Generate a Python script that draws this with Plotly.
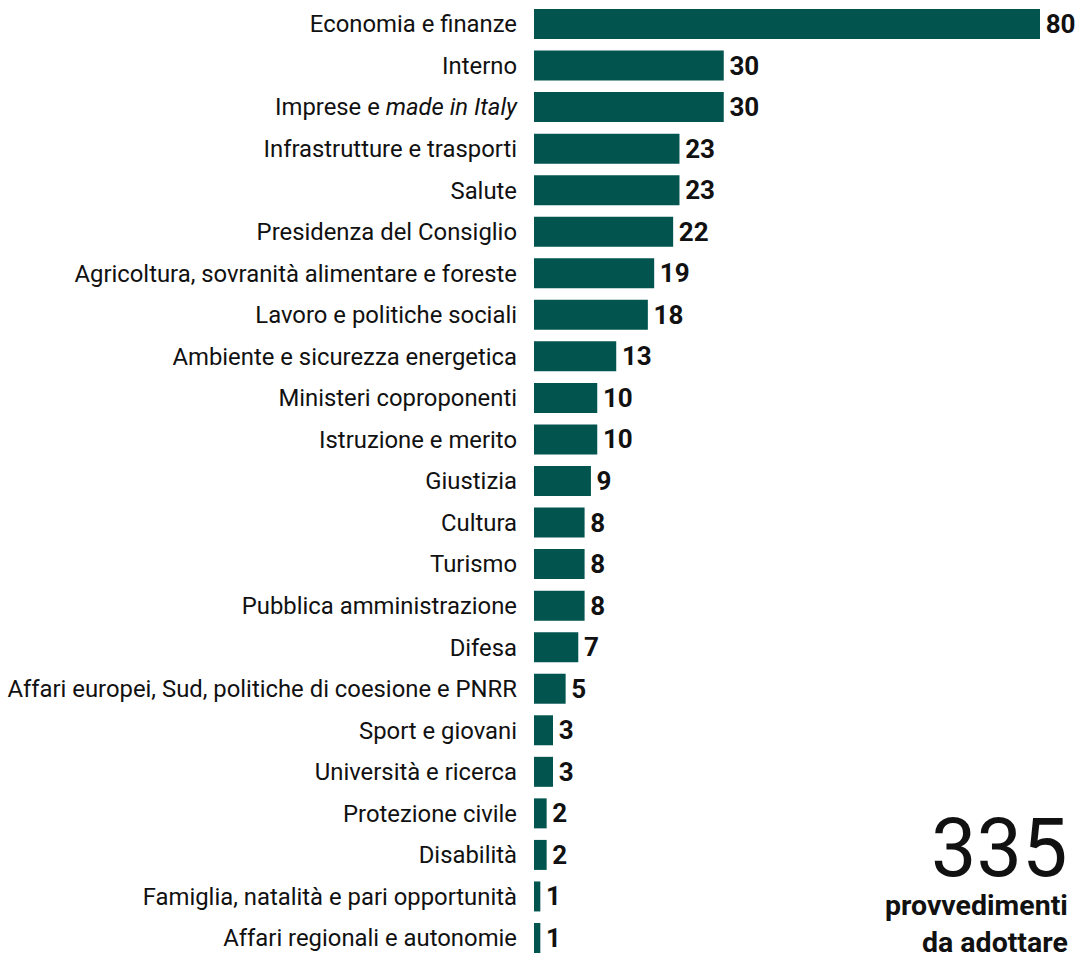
import plotly.graph_objects as go

categories = [
    "Economia e finanze", "Interno", "Imprese e <i>made in Italy</i>",
    "Infrastrutture e trasporti", "Salute", "Presidenza del Consiglio",
    "Agricoltura, sovranità alimentare e foreste", "Lavoro e politiche sociali",
    "Ambiente e sicurezza energetica", "Ministeri coproponenti",
    "Istruzione e merito", "Giustizia", "Cultura", "Turismo",
    "Pubblica amministrazione", "Difesa",
    "Affari europei, Sud, politiche di coesione e PNRR", "Sport e giovani",
    "Università e ricerca", "Protezione civile", "Disabilità",
    "Famiglia, natalità e pari opportunità", "Affari regionali e autonomie",
]
values = [80, 30, 30, 23, 23, 22, 19, 18, 13, 10, 10, 9, 8, 8, 8, 7, 5, 3, 3, 2, 2, 1, 1]
total_value = "335"
total_label = "provvedimenti<br>da adottare"

COLOR = "#02554F"
W, H = 1079, 954
L = 534
PX_PER_UNIT = 6.325

fig = go.Figure(go.Bar(
    x=values, y=categories, orientation="h",
    marker=dict(color=COLOR, line=dict(width=0)),
    text=["\u200a" + str(v) for v in values], textposition="outside",
    textfont=dict(family="Roboto", size=26, color="#111111", weight="bold"),
    cliponaxis=False, constraintext="none",
    hoverinfo="skip",
))

n = len(categories)
pp = 41.55
first_c = 24
last_c = 938
top_idx = -first_c / pp
bot_idx = (n - 1) + (H - last_c) / pp

def px_x(x):  # screen px -> plot-area paper coord
    return (x - L) / (W - L)

def px_y(y):
    return (H - y) / H

fig.update_layout(
    width=W, height=H,
    margin=dict(l=L, r=0, t=0, b=0, autoexpand=False),
    paper_bgcolor="white", plot_bgcolor="white",
    bargap=0.278, showlegend=False,
    font=dict(family="Roboto", color="#111111"),
    xaxis=dict(range=[0, (W - L) / PX_PER_UNIT], visible=False,
               fixedrange=True, automargin=False),
    yaxis=dict(
        type="category", range=[bot_idx, top_idx], autorange=False,
        showgrid=False, zeroline=False, showline=False, automargin=False,
        ticks="", ticklabelstandoff=16,
        tickfont=dict(family="Roboto", size=23.85, color="#111111"),
    ),
    annotations=[
        dict(x=px_x(1070), y=px_y(848), xref="paper", yref="paper",
             xanchor="right", yanchor="middle", showarrow=False,
             text=total_value,
             font=dict(family="Roboto", size=81, color="#111111")),
        dict(x=px_x(1070), y=px_y(924), xref="paper", yref="paper",
             xanchor="right", yanchor="middle", showarrow=False, align="right",
             text=total_label,
             font=dict(family="Roboto", size=28.5, color="#111111", weight="bold")),
    ],
)

fig.write_html(
    "out.html",
    config={"displayModeBar": False},
    post_script="document.body.style.margin='0';document.body.style.overflow='hidden';",
)
